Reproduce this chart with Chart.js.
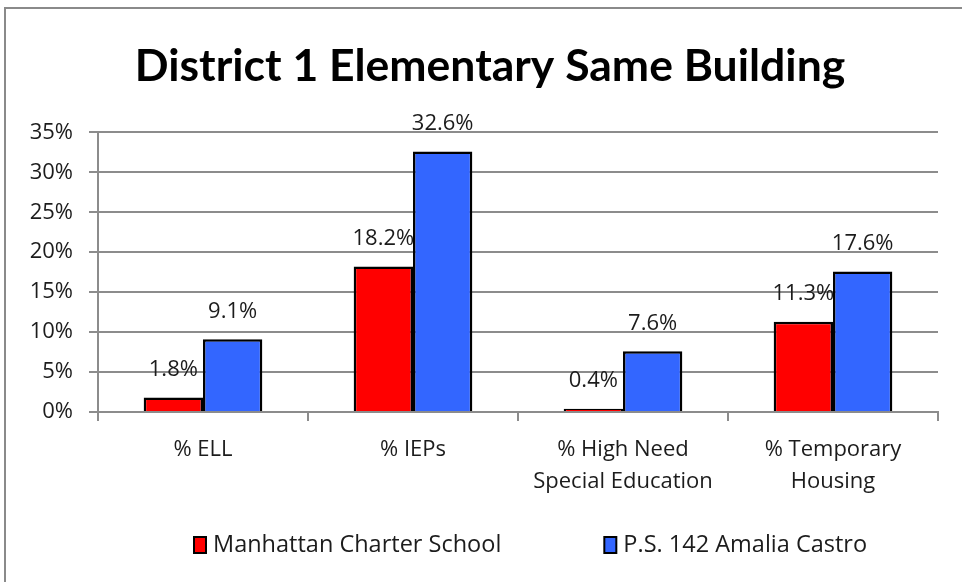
<!DOCTYPE html>
<html>
<head>
<meta charset="utf-8">
<script src="https://cdn.jsdelivr.net/npm/chart.js@4"></script>
<style>
  html, body { margin: 0; padding: 0; background: #fff; }
  #wrap { width: 962px; height: 582px; }
</style>
</head>
<body>
<div id="wrap"><canvas id="chart" width="962" height="582"></canvas></div>
<script>
const categories = [["% ELL"], ["% IEPs"], ["% High Need", "Special Education"], ["% Temporary", "Housing"]];
const seriesNames = ["Manhattan Charter School", "P.S. 142 Amalia Castro"];
const manhattanValues = [1.8, 18.2, 0.4, 11.3];
const ps142Values = [9.1, 32.6, 7.6, 17.6];
const yTicks = [0, 5, 10, 15, 20, 25, 30, 35];

const FONT = "'Open Sans', sans-serif";
const TITLE_FONT = "Lato, 'Open Sans', sans-serif";
const TEXT = '#1c1c1c';
const GRID = '#8c8c8c';

// outer frame like the original slide chart box
const framePlugin = {
    id: 'frame',
    beforeDraw(chart) {
        const ctx = chart.ctx;
        ctx.save();
        ctx.fillStyle = '#fff';
        ctx.fillRect(0, 0, chart.width, chart.height);
        ctx.strokeStyle = '#8a8a8a';
        ctx.lineWidth = 2;
        ctx.strokeRect(5, 8, chart.width + 10, chart.height + 10);
        ctx.restore();
    },
    // the title in the original sits a little right of the canvas centre
    afterLayout(chart) {
        if (chart.titleBlock) chart.titleBlock.left += 32;
    }
};

// value labels above each bar
const valueLabels = {
    id: 'valueLabels',
    afterDatasetsDraw(chart) {
        const ctx = chart.ctx;
        ctx.save();
        ctx.font = '22px ' + FONT;
        ctx.fillStyle = TEXT;
        ctx.textAlign = 'center';
        ctx.textBaseline = 'middle';
        chart.data.datasets.forEach((ds, i) => {
            chart.getDatasetMeta(i).data.forEach((bar, j) => {
                ctx.fillText(ds.data[j].toFixed(1) + '%', bar.x, bar.y - 28);
            });
        });
        ctx.restore();
    }
};

// legend drawn at the bottom with wide spacing between items
const bottomLegend = {
    id: 'bottomLegend',
    afterDraw(chart) {
        const ctx = chart.ctx;
        const y = chart.chartArea.bottom + 133;
        let x = chart.chartArea.left + 96;
        ctx.save();
        ctx.font = '23.5px ' + FONT;
        ctx.textBaseline = 'middle';
        chart.data.datasets.forEach((ds) => {
            ctx.fillStyle = ds.backgroundColor;
            ctx.fillRect(x, y - 8, 12, 16);
            ctx.strokeStyle = '#000';
            ctx.lineWidth = 2;
            ctx.strokeRect(x, y - 8, 12, 16);
            ctx.fillStyle = TEXT;
            ctx.fillText(ds.label, x + 19, y);
            x += 19 + ctx.measureText(ds.label).width + 103;
        });
        ctx.restore();
    }
};

new Chart(document.getElementById('chart'), {
    type: 'bar',
    data: {
        labels: categories,
        datasets: [
            {
                label: seriesNames[0],
                data: manhattanValues,
                backgroundColor: '#ff0000',
                borderColor: '#000',
                borderWidth: 2.5,
                borderSkipped: 'bottom'
            },
            {
                label: seriesNames[1],
                data: ps142Values,
                backgroundColor: '#3366ff',
                borderColor: '#000',
                borderWidth: 2.5,
                borderSkipped: 'bottom'
            }
        ]
    },
    options: {
        responsive: false,
        animation: false,
        devicePixelRatio: 1,
        layout: { padding: { left: 10, right: 24, top: 8, bottom: 0 } },
        datasets: { bar: { categoryPercentage: 0.565, barPercentage: 1.0 } },
        plugins: {
            legend: { display: false },
            tooltip: { enabled: false },
            title: {
                display: true,
                text: 'District 1 Elementary Same Building',
                color: '#000',
                font: { family: TITLE_FONT, size: 44.5, weight: 'bold', lineHeight: 1.2 },
                padding: { top: 32, bottom: 39 }
            }
        },
        scales: {
            x: {
                grid: { display: true, drawOnChartArea: false, offset: true, color: GRID, lineWidth: 2, tickLength: 9 },
                border: { color: GRID, width: 2 },
                ticks: { color: TEXT, font: { family: FONT, size: 22, lineHeight: 1.45 }, padding: 13, maxRotation: 0, autoSkip: false },
                afterFit(scale) { scale.height = 170; }
            },
            y: {
                min: 0,
                max: yTicks[yTicks.length - 1],
                afterBuildTicks(scale) { scale.ticks = yTicks.map(v => ({ value: v })); },
                grid: { color: GRID, lineWidth: 2, tickLength: 9 },
                border: { color: GRID, width: 2 },
                ticks: { color: TEXT, font: { family: FONT, size: 22 }, padding: 16, callback: v => v + '%' },
                afterFit(scale) { scale.width = 88; }
            }
        }
    },
    plugins: [framePlugin, valueLabels, bottomLegend]
});
</script>
</body>
</html>
